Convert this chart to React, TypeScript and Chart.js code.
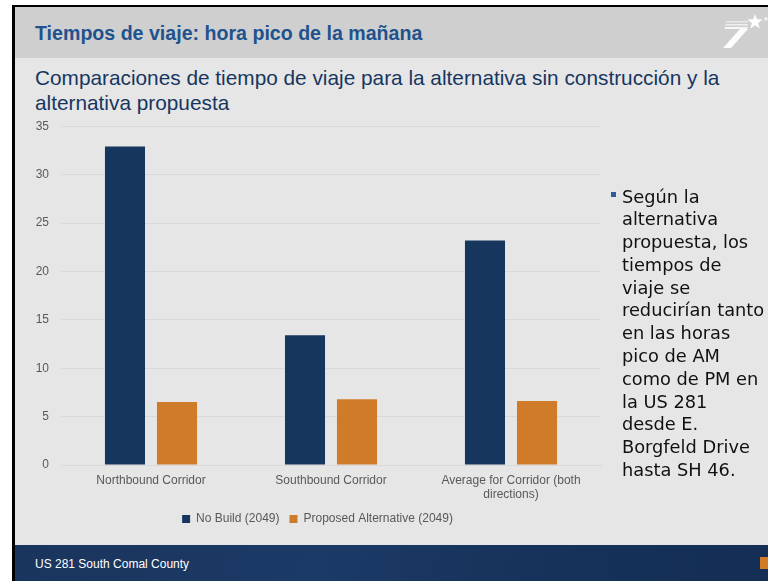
import React, { useEffect, useRef } from "react";
import { Chart, registerables } from "chart.js";

Chart.register(...registerables);

// ---- Data ----
const categories: (string | string[])[] = [
  "Northbound Corridor",
  "Southbound Corridor",
  ["Average for Corridor (both", "directions)"],
];
const noBuild = [32.9, 13.4, 23.2];
const proposed = [6.5, 6.8, 6.6];
const seriesNames = ["No Build (2049)", "Proposed Alternative (2049)"];
const yMin = 0;
const yMax = 35;
const yStep = 5;

const titleText = "Tiempos de viaje: hora pico de la mañana";
const subtitleText =
  "Comparaciones de tiempo de viaje para la alternativa sin construcción y la alternativa propuesta";
const bulletLines = [
  "Según la",
  "alternativa",
  "propuesta, los",
  "tiempos de",
  "viaje se",
  "reducirían tanto",
  "en las horas",
  "pico de AM",
  "como de PM en",
  "la US 281",
  "desde E.",
  "Borgfeld Drive",
  "hasta SH 46.",
];
const footerText = "US 281 South Comal County";

const NAVY = "#17365d";
const ORANGE = "#cf7b2a";
const TICK = "#595959";
const GRID = "#d9d9d9";
const CHART_FONT = "'Liberation Sans', Arial, sans-serif";

const legendShift = {
  id: "legendShift",
  afterLayout(chart: any) {
    const l = chart.legend;
    if (l) {
      l.left += 7;
      l.right += 7;
    }
  },
};

function ChartBox() {
  const ref = useRef<HTMLCanvasElement | null>(null);
  useEffect(() => {
    if (!ref.current) return;
    const chart = new Chart(ref.current, {
      type: "bar",
      data: {
        labels: categories as any,
        datasets: [
          {
            label: seriesNames[0],
            data: noBuild,
            backgroundColor: NAVY,
            borderWidth: 0,
          },
          {
            label: seriesNames[1],
            data: proposed,
            backgroundColor: ORANGE,
            borderWidth: 0,
          },
        ],
      },
      options: {
        animation: false,
        responsive: true,
        maintainAspectRatio: false,
        datasets: {
          bar: { categoryPercentage: 0.578, barPercentage: 0.77 },
        } as any,
        layout: { padding: { left: 0, right: 19, top: 13, bottom: 0 } },
        plugins: {
          legend: {
            position: "bottom",
            labels: {
              boxWidth: 8,
              boxHeight: 8,
              padding: 10,
              color: TICK,
              font: { family: CHART_FONT, size: 12 },
            },
          },
          tooltip: { enabled: false },
          title: { display: false },
        },
        scales: {
          x: {
            grid: { display: false, drawTicks: false },
            border: { display: true, color: GRID, width: 1 },
            ticks: {
              color: TICK,
              padding: 8,
              maxRotation: 0,
              autoSkip: false,
              font: { family: CHART_FONT, size: 12 },
            },
            afterFit: (s: any) => {
              s.height = 38;
            },
          },
          y: {
            min: yMin,
            max: yMax,
            ticks: {
              stepSize: yStep,
              color: TICK,
              padding: 12,
              font: { family: CHART_FONT, size: 12 },
            },
            grid: { color: GRID, lineWidth: 1, drawTicks: false },
            border: { display: false },
            afterFit: (s: any) => {
              s.width = 41;
            },
          },
        },
      },
      plugins: [legendShift],
    });
    return () => chart.destroy();
  }, []);
  return (
    <div style={{ position: "absolute", left: 20, top: 107, width: 600, height: 428 }}>
      <canvas ref={ref} />
    </div>
  );
}

function Logo() {
  const star = (cx: number, cy: number, R: number, r: number) => {
    const pts: string[] = [];
    for (let i = 0; i < 10; i++) {
      const a = -Math.PI / 2 + (i * Math.PI) / 5;
      const rad = i % 2 === 0 ? R : r;
      pts.push(`${cx + rad * Math.cos(a)},${cy + rad * Math.sin(a)}`);
    }
    return pts.join(" ");
  };
  return (
    <svg
      width={60}
      height={50}
      style={{ position: "absolute", left: 715, top: 8 }}
      viewBox="0 0 60 50"
    >
      <g fill="#ffffff">
        <polygon points="11,13 33,13 32.5,14.5 10.5,14.5" opacity={0.55} />
        <polygon points="10.5,16 33,16 32.5,17.5 10,17.5" opacity={0.65} />
        <polygon points="10,19 33,19 32,21 9.5,21" opacity={0.8} />
        <polygon points="25,21 33,21 16,40 8,40" opacity={0.95} />
        <polygon points={star(40, 14, 8, 3.3)} />
        <polygon points={star(51, 11, 2.5, 1.1)} opacity={0.8} />
      </g>
    </svg>
  );
}

export default function App() {
  return (
    <div
      style={{
        position: "absolute",
        left: 0,
        top: 0,
        width: 768,
        height: 581,
        background: "#ffffff",
        overflow: "hidden",
      }}
    >
      {/* border */}
      <div style={{ position: "absolute", left: 12, top: 5, width: 760, height: 580, background: "#000" }} />
      {/* header */}
      <div style={{ position: "absolute", left: 15, top: 7, width: 760, height: 51, background: "#cfcfcf" }} />
      {/* content */}
      <div style={{ position: "absolute", left: 15, top: 58, width: 760, height: 487, background: "#e6e6e6" }} />
      {/* footer */}
      <div
        style={{
          position: "absolute",
          left: 15,
          top: 545,
          width: 760,
          height: 40,
          background: "linear-gradient(100deg, #1a355d 0%, #1b3a66 40%, #16325a 70%, #142e55 100%)",
        }}
      />
      <div style={{ position: "absolute", left: 760, top: 557, width: 12, height: 12, background: "#d07c27" }} />
      <Logo />
      <div
        style={{
          position: "absolute",
          left: 35,
          top: 22,
          lineHeight: "22px",
          fontFamily: "'Liberation Sans', Arial, sans-serif",
          fontWeight: "bold",
          fontSize: 19.6,
          color: "#21528d",
          whiteSpace: "nowrap",
        }}
      >
        {titleText}
      </div>
      <div
        style={{
          position: "absolute",
          left: 35,
          top: 65,
          width: 700,
          lineHeight: "25px",
          fontFamily: "'Liberation Sans', Arial, sans-serif",
          fontSize: 20.8,
          color: "#17365f",
        }}
      >
        {subtitleText}
      </div>
      <ChartBox />
      <div style={{ position: "absolute", left: 611, top: 192, width: 5, height: 5, background: "#2e5e96" }} />
      <div
        style={{
          position: "absolute",
          left: 622,
          top: 185.5,
          lineHeight: "22.8px",
          fontFamily: "'DejaVu Sans', sans-serif",
          fontSize: 17.8,
          color: "#111",
          whiteSpace: "nowrap",
        }}
      >
        {bulletLines.map((l, i) => (
          <div key={i}>{l}</div>
        ))}
      </div>
      <div
        style={{
          position: "absolute",
          left: 35,
          top: 556,
          lineHeight: "16px",
          fontFamily: "'Liberation Sans', Arial, sans-serif",
          fontSize: 12,
          color: "#ffffff",
          whiteSpace: "nowrap",
        }}
      >
        {footerText}
      </div>
    </div>
  );
}
